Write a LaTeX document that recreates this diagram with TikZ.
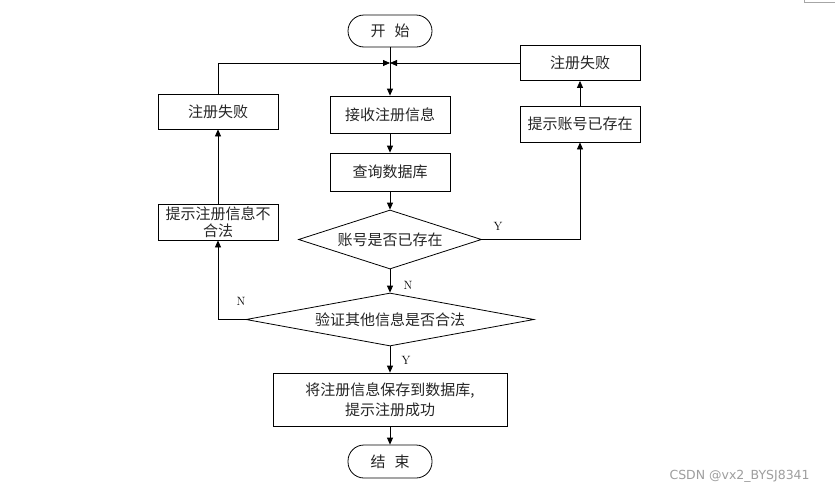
\documentclass[tikz,border=0pt]{standalone}
\usepackage{fontspec}
\newfontfamily\cjk{Noto Sans CJK SC}
\newfontfamily\wmfont{DejaVu Sans}
\usetikzlibrary{arrows.meta,shapes.geometric}
\tikzset{
  every node/.style={font=\cjk\fontsize{15}{19}\selectfont, text=black!85},
  box/.style={draw=black, line width=0.8pt, rectangle, minimum width=120pt, minimum height=36pt, inner sep=1pt, align=center},
  term/.style={draw=black, line width=0.8pt, rectangle, rounded corners=16pt, minimum width=84pt, minimum height=32pt, inner sep=0pt},
  dec/.style={draw=black, line width=0.8pt, diamond, inner sep=0pt},
  lbl/.style={font=\rmfamily\fontsize{12}{12}\selectfont, text=black},
  conn/.style={line width=0.8pt, draw=black},
  arr/.style={conn, -{Triangle[length=7pt,width=6pt]}},
}
\begin{document}
\begin{tikzpicture}[x=1pt,y=-1pt]
\useasboundingbox (0,0) rectangle (838,493);
\fill[white] (0,0) rectangle (838,493);

\node[term] (start) at (390,31) {开\hspace{0.6em}始};
\coordinate (jn) at (390,63);
\node[box, minimum height=37pt] (recv) at (390,114.5) {接收注册信息};
\node[box, minimum height=38pt] (query) at (390,172) {查询数据库};
\node[dec, aspect=3.1, minimum width=183pt, minimum height=59pt] (d1) at (390,239.5) {账号是否已存在};
\node[dec, aspect=5.43, minimum width=288pt, minimum height=53pt] (d2) at (390,319.5) {验证其他信息是否合法};
\node[box, minimum width=234pt, minimum height=53pt, font=\cjk\fontsize{15}{20}\selectfont] (save) at (390,399.5) {将注册信息保存到数据库,\\提示注册成功};
\node[term, minimum height=33pt] (end) at (390,461.5) {结\hspace{0.6em}束};

\node[box, minimum height=36pt] (exist) at (580,124) {提示账号已存在};
\node[box, minimum height=35pt] (failR) at (580,63) {注册失败};
\node[box, minimum height=36pt, font=\cjk\fontsize{15}{17}\selectfont] (illegal) at (218,222) {提示注册信息不\\合法};
\node[box, minimum height=35pt] (failL) at (218,111.5) {注册失败};

% main flow
\draw[arr] (start.south) -- (recv.north);
\draw[arr] (recv.south) -- (query.north);
\draw[arr] (query.south) -- (d1.north);
\draw[arr] (d1.south) -- (d2.north);
\draw[arr] (d2.south) -- (save.north);
\draw[arr] (save.south) -- (end.north);

% right branch
\draw[arr] (d1.east) -| (exist.south);
\draw[arr] (exist.north) -- (failR.south);
\draw[arr] (failR.west) -- (jn);

% left branch
\draw[arr] (d2.west) -| (illegal.south);
\draw[arr] (illegal.north) -- (failL.south);
\draw[arr] (failL.north) |- (jn);

% labels
\node[lbl] (ly1) at (498,226) {Y};
\node[lbl] (ln1) at (408,285) {N};
\node[lbl] (ln2) at (241,301) {N};
\node[lbl] (ly2) at (406,360) {Y};

% watermark and corner mark
\node[font=\wmfont\fontsize{12.5}{13}\selectfont, text=black!38, anchor=west] (wm) at (666,476) {CSDN @vx2\_BYSJ8341};
\coordinate (c1) at (804,0);
\coordinate (c2) at (804,2.5);
\coordinate (c3) at (835,2.5);
\draw[black!35, line width=0.7pt] (c1) -- (c2) -- (c3);
\end{tikzpicture}
\end{document}
